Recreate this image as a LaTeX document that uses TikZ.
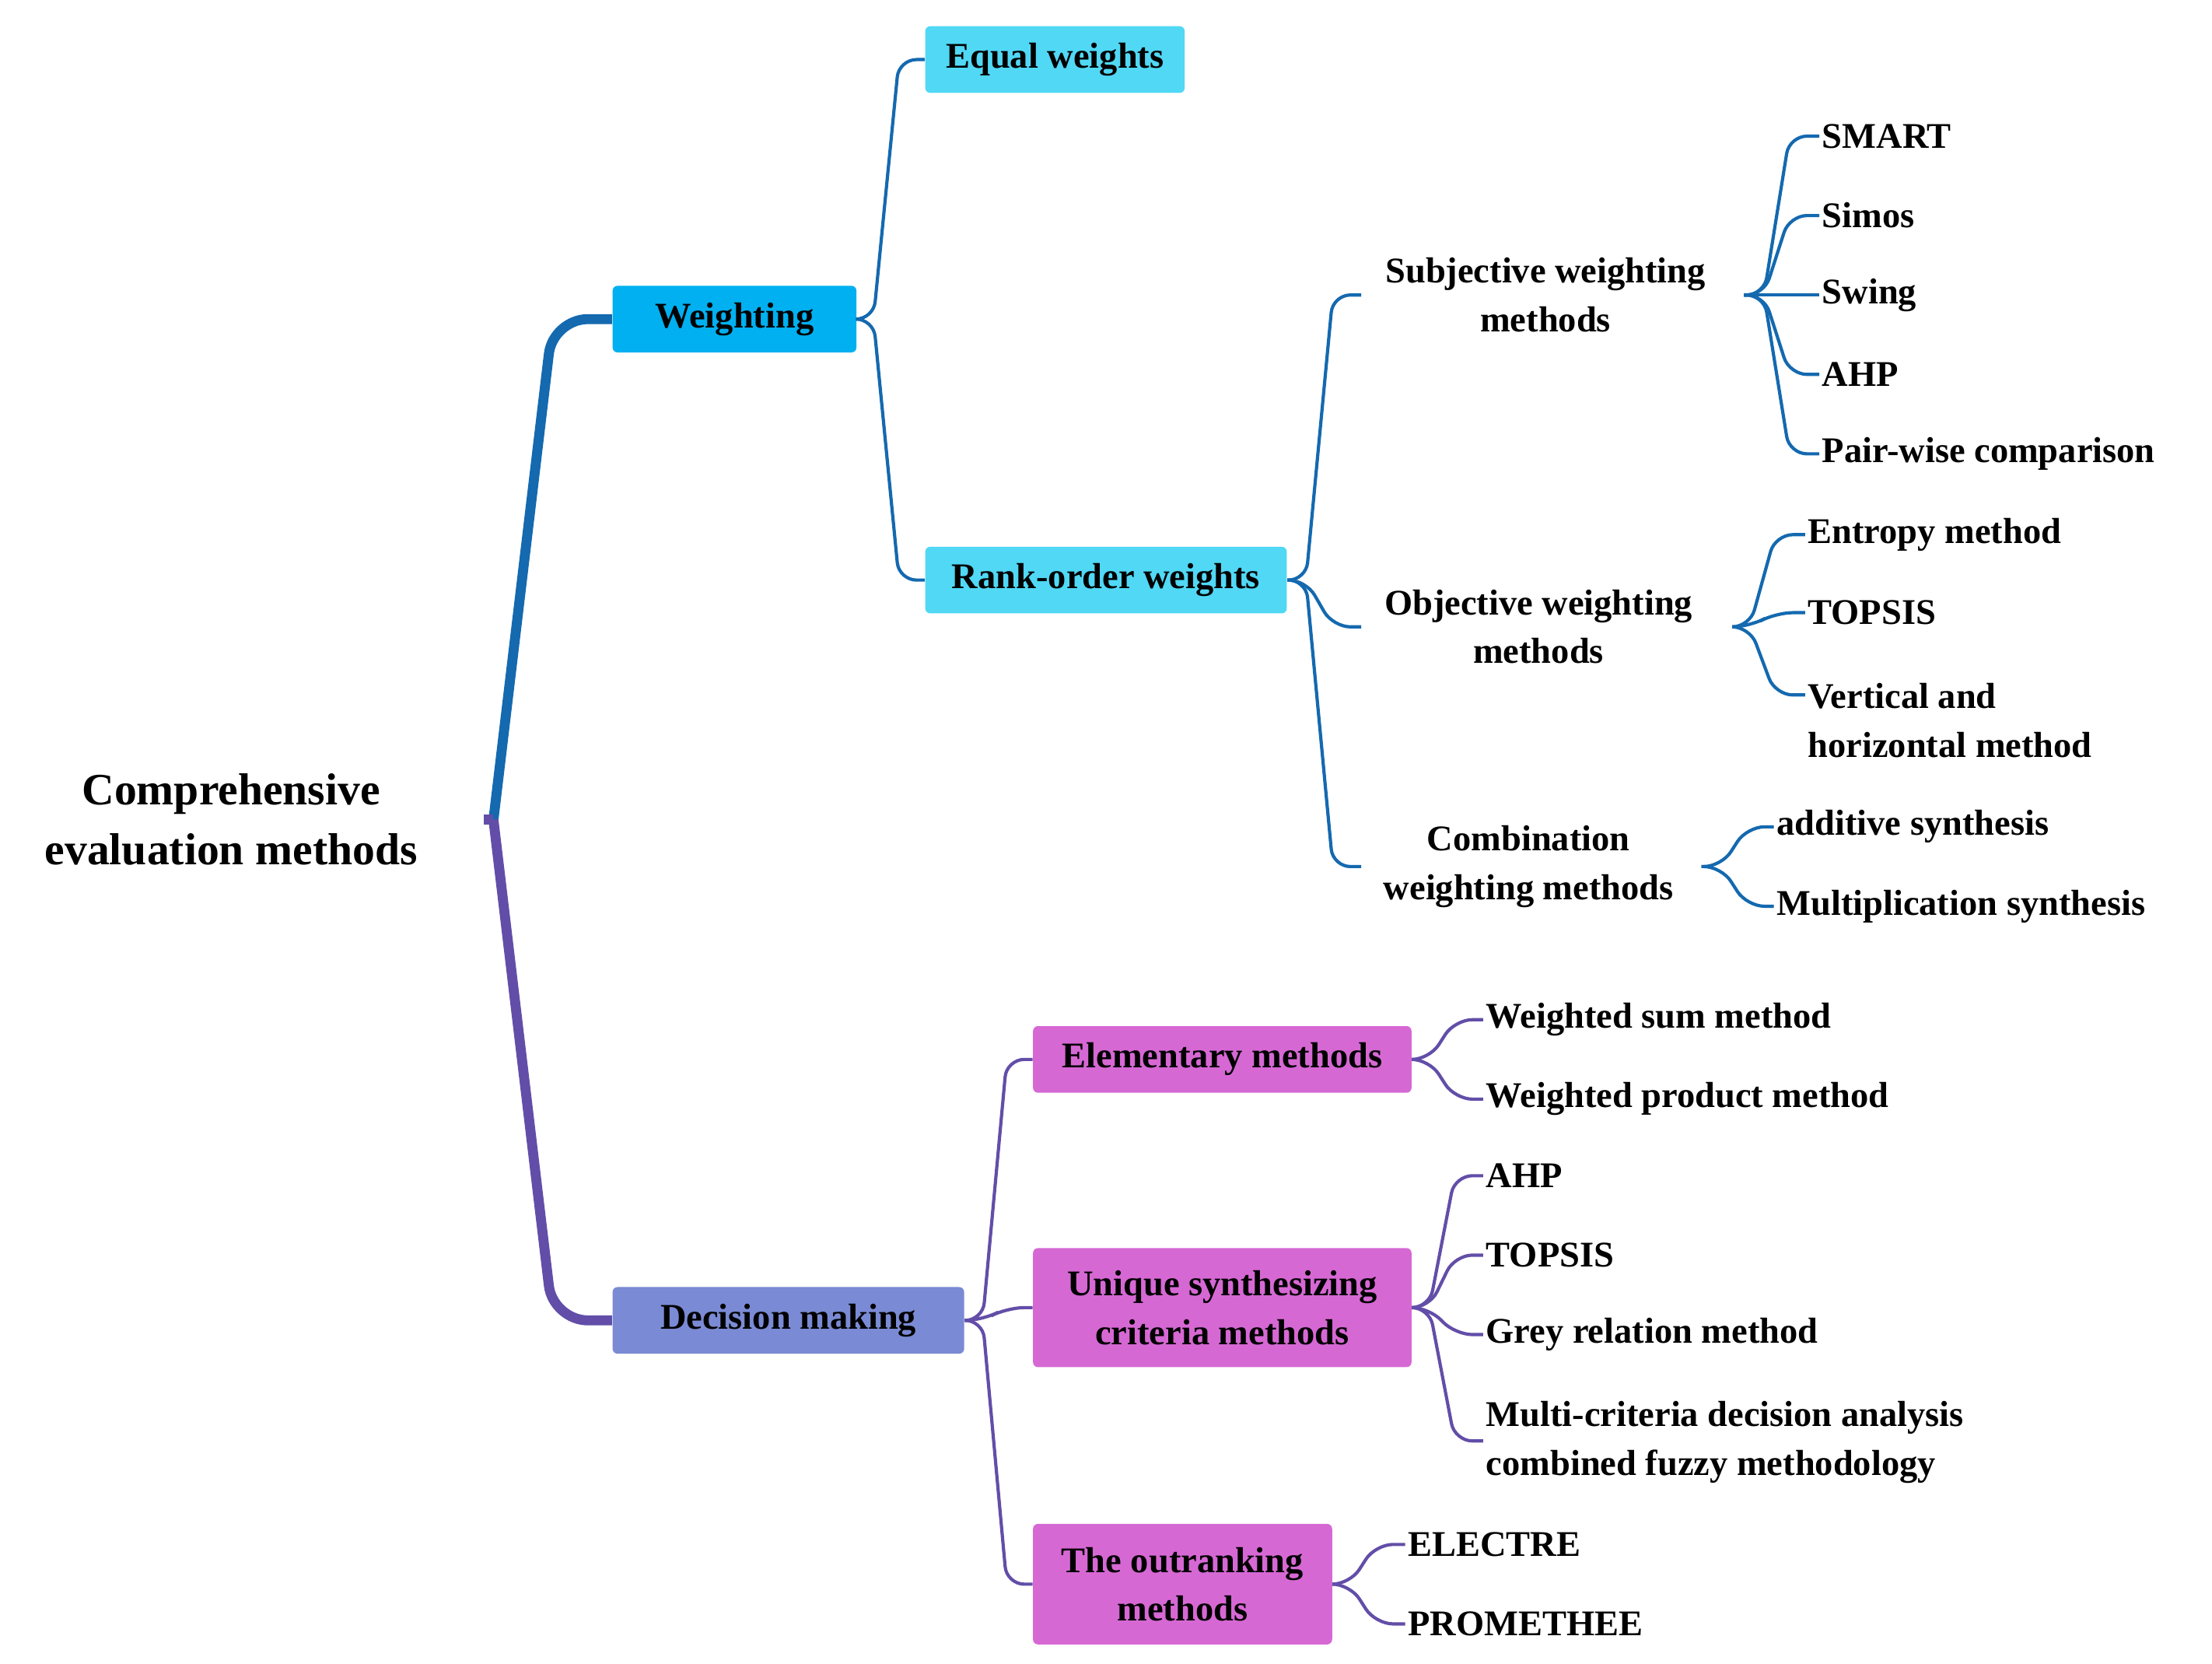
\documentclass[tikz,border=0pt]{standalone}
\usepackage{fontspec}
\setmainfont{Liberation Serif}
\usetikzlibrary{calc}
\definecolor{wb}{RGB}{0,176,240}
\definecolor{cy}{RGB}{80,216,245}
\definecolor{db}{RGB}{122,138,212}
\definecolor{mg}{RGB}{214,104,212}
\definecolor{bl}{RGB}{20,105,175}
\definecolor{pl}{RGB}{98,78,168}
\begin{document}
\begin{tikzpicture}[x=0.02cm,y=-0.02cm,
 every node/.style={font=\fontsize{14.5}{19.5}\selectfont\bfseries},
 box/.style={rounded corners=2pt,minimum height=0.94cm,inner sep=2pt,align=center},
 leaf/.style={anchor=west,inner sep=1pt},
 mid/.style={align=center,inner sep=1pt},
 cb/.style={draw=bl,line width=1.3pt,rounded corners=7pt},
 cp/.style={draw=pl,line width=1.3pt,rounded corners=7pt}]
\useasboundingbox (0,0) rectangle (1560,1173);
% root
\node[align=center,font=\fontsize{18}{24}\selectfont\bfseries] (root) at (163,578) {Comprehensive\\evaluation methods};
\coordinate (rf) at (348,578);
\node[box,fill=wb,minimum width=3.44cm] (w) at (518,225) {Weighting};
\node[box,fill=db,minimum width=4.96cm] (d) at (556,931) {Decision making};
\draw[draw=bl,line width=4pt,rounded corners=14pt] (rf) -- (390,225) -- (w.west);
\draw[draw=pl,line width=4pt,rounded corners=14pt] (rf) -- (390,931) -- (d.west);
\draw[draw=pl,line width=4pt] (341,578) -- (rf);
% weighting
\node[box,fill=cy,minimum width=3.66cm] (eq) at (744,42) {Equal weights};
\node[box,fill=cy,minimum width=5.1cm] (ro) at (780,409) {Rank-order weights};
\draw[cb] (w.east) -- (616,225) -- (634,42) -- (eq.west);
\draw[cb] (w.east) -- (616,225) -- (634,409) -- (ro.west);
\node[mid] (sub) at (1090,208) {Subjective weighting\\methods};
\node[mid] (obj) at (1085,442) {Objective weighting\\methods};
\node[mid] (com) at (1078,611) {Combination\\weighting methods};
\draw[cb] (ro.east) -- (921,409) -- (940,208) -- (960,208);
\draw[cb] (ro.east) -- (921,409) -- (940,442) -- (960,442);
\draw[cb] (ro.east) -- (921,409) -- (940,611) -- (960,611);
% subjective leaves
\foreach \n/\t/\y in {s1/SMART/96,s2/Simos/152,s3/Swing/208,s4/AHP/264,s5/Pair-wise comparison/320}{
 \node[leaf] (\n) at (1283,\y) {\t};
 \draw[cb] (1230,208) -- (1244,208) -- (1262,\y) -- (\n.west);}
\foreach \n/\t/\y in {o1/Entropy method/377,o2/TOPSIS/432}{
 \node[leaf] (\n) at (1273,\y) {\t};
 \draw[cb] (1222,442) -- (1234,442) -- (1252,\y) -- (\n.west);}
\node[leaf,align=left] (o3) at (1273,508) {Vertical and\\horizontal method};
\draw[cb] (1222,442) -- (1234,442) -- (1252,490) -- (1273,490);
\foreach \n/\t/\y in {c1/additive synthesis/583,c2/Multiplication synthesis/639}{
 \node[leaf] (\n) at (1251,\y) {\t};
 \draw[cb] (1200,611) -- (1214,611) -- (1232,\y) -- (\n.west);}
% decision
\node[box,fill=mg,minimum width=5.34cm] (e) at (862,747) {Elementary methods};
\node[box,fill=mg,minimum width=5.34cm,minimum height=1.68cm] (u) at (862,922) {Unique synthesizing\\criteria methods};
\node[box,fill=mg,minimum width=4.22cm,minimum height=1.7cm] (o) at (834,1117) {The outranking\\methods};
\draw[cp] (d.east) -- (693,931) -- (710,747) -- (e.west);
\draw[cp] (d.east) -- (693,931) -- (710,922) -- (u.west);
\draw[cp] (d.east) -- (693,931) -- (710,1117) -- (o.west);
\foreach \n/\t/\y in {e1/Weighted sum method/719,e2/Weighted product method/775}{
 \node[leaf] (\n) at (1046,\y) {\t};
 \draw[cp] (e.east) -- (1008,747) -- (1026,\y) -- (\n.west);}
\foreach \n/\t/\y in {u1/AHP/829,u2/TOPSIS/885,u3/Grey relation method/941}{
 \node[leaf] (\n) at (1046,\y) {\t};
 \draw[cp] (u.east) -- (1008,922) -- (1026,\y) -- (\n.west);}
\node[leaf,align=left] (u4) at (1046,1017) {Multi-criteria decision analysis\\combined fuzzy methodology};
\draw[cp] (u.east) -- (1008,922) -- (1026,1016) -- (1046,1016);
\foreach \n/\t/\y in {p1/ELECTRE/1089,p2/PROMETHEE/1145}{
 \node[leaf] (\n) at (991,\y) {\t};
 \draw[cp] (o.east) -- (952,1117) -- (970,\y) -- (\n.west);}
\end{tikzpicture}
\end{document}
